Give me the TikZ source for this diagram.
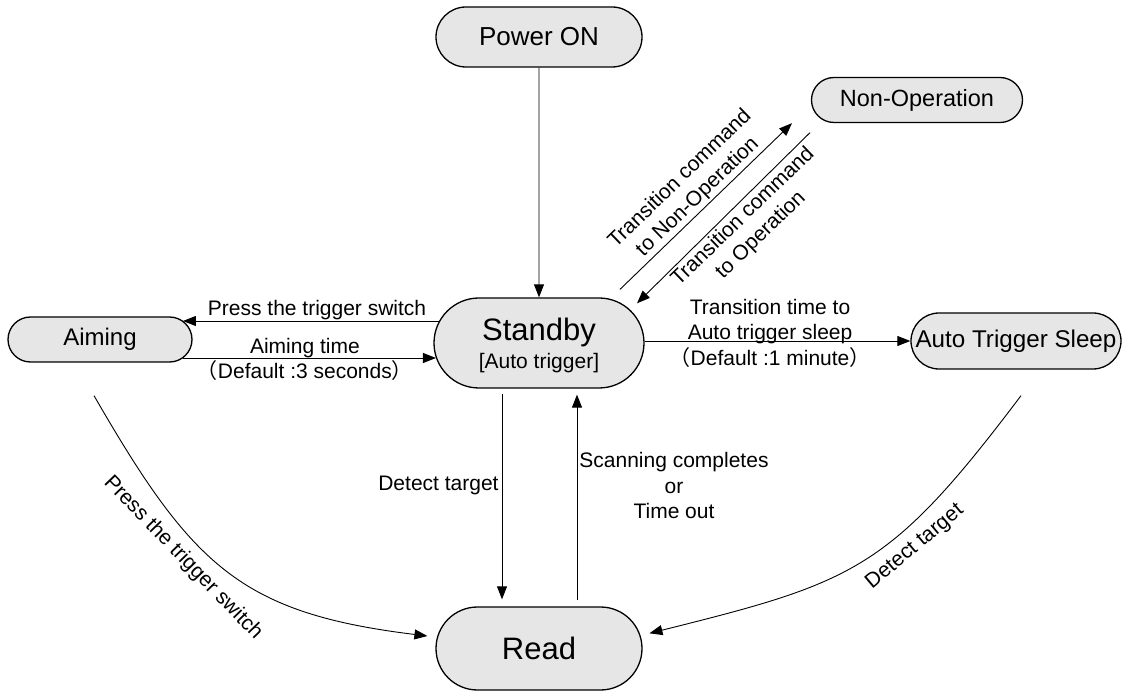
\documentclass[tikz,border=0pt]{standalone}
\usepackage{fontspec}
\setmainfont{Liberation Sans}
\newfontfamily\cjkfont{Noto Sans CJK SC}
\usetikzlibrary{shapes.misc,arrows.meta}
\definecolor{stategray}{HTML}{E6E6E6}
\tikzset{
  stnode/.style={rounded rectangle, draw=black, line width=1.3pt, fill=stategray, inner sep=2pt},
  conn/.style={line width=0.9pt, -{Triangle[length=13pt,width=10pt]}},
  lbl/.style={font=\fontsize{21}{25.5}\selectfont, align=center, inner sep=0pt},
}
\begin{document}
\begin{tikzpicture}[x=1pt,y=1pt]
\useasboundingbox (0,0) rectangle (1128,-692);

% states
\node[stnode, minimum width=210, minimum height=60, font=\fontsize{26}{26}\selectfont] (pwr) at (539,-37) {Power ON};
\node[stnode, minimum width=215, minimum height=45, font=\fontsize{23.5}{23.5}\selectfont] (nonop) at (917,-100) {Non-Operation};
\node[stnode, minimum width=188, minimum height=45, font=\fontsize{24}{24}\selectfont] (aim) at (100,-339.5) {Aiming};
\node[stnode, minimum width=214, minimum height=90, align=center, font=\fontsize{21}{27.6}\selectfont] (stby) at (539,-343)
  {{\fontsize{31}{31}\selectfont Standby\rule{0pt}{27.4pt}}\\{[Auto trigger]}};
\node[stnode, minimum width=214, minimum height=56, font=\fontsize{24.2}{24.2}\selectfont] (ats) at (1016,-341) {Auto Trigger Sleep};
\node[stnode, minimum width=210, minimum height=83, font=\fontsize{31}{31}\selectfont] (read) at (539,-648.5) {Read};

% connectors
\draw[conn] (pwr) -- (stby);

\draw[conn] ([shift={(5.5,22)}]stby.west) -- ([shift={(-9.7,18.5)}]aim.east)
  node[lbl, pos=0.476, anchor=base, yshift=5] {Press the trigger switch};

\draw[conn] ([shift={(-9.7,-18.5)}]aim.east) -- ([shift={(2.6,-15)}]stby.west)
  node[lbl, pos=0.482, yshift=-1.2] {Aiming time\\{\cjkfont （}Default :3 seconds{\cjkfont ）}};

\draw[conn] (ats.west -| stby.east) -- (ats.west)
  node[lbl, pos=0.472, yshift=8] {Transition time to\\Auto trigger sleep\\{\cjkfont （}Default :1 minute{\cjkfont ）}};

\draw[conn] ([shift={(81,8)}]stby.north) -- ([xshift=-125]nonop.south);
\node[lbl, rotate=44] (lblnon) at (689,-188) {Transition command\\to Non-Operation};

\draw[conn] ([shift={(-107,-9.5)}]nonop.south) -- ([shift={(98,-6)}]stby.north);
\node[lbl, rotate=44] (lblop) at (752,-226) {Transition command\\to Operation};

\draw[conn] ([shift={(-37,-5)}]stby.south) -- ([shift={(-37,7)}]read.north)
  node[lbl, pos=0.469, anchor=base east, xshift=-3] {Detect target};

\draw[conn] ([shift={(38,6)}]read.north) -- ([shift={(38,-6)}]stby.south)
  node[lbl, pos=0.556, xshift=97] {Scanning completes\\or\\Time out};

\draw[conn, shorten >=8pt] ([shift={(-6,-33)}]aim.south) to[out=-60, in=173, looseness=1.2] ([yshift=11.5]read.west);
\node[lbl, rotate=-46] (lblpress) at (183,-558) {Press the trigger switch};

\draw[conn, shorten >=7pt] ([shift={(5,-26)}]ats.south) to[out=233, in=14, looseness=1.25] ([yshift=13.5]read.east);
\node[lbl, rotate=40] (lbldet) at (915,-547) {Detect target};
\end{tikzpicture}
\end{document}
